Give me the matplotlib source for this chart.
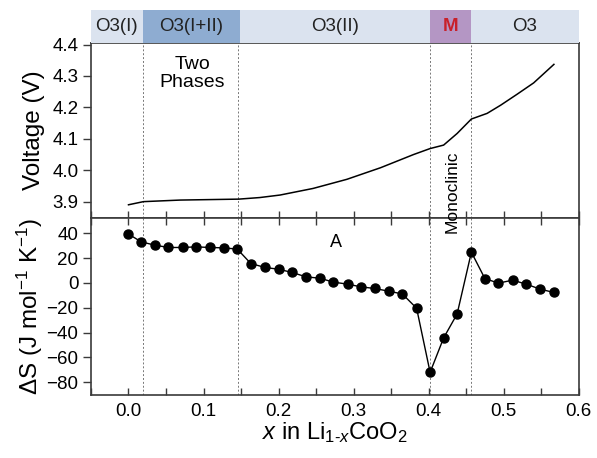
import matplotlib
matplotlib.use("Agg")
import matplotlib.pyplot as plt

plt.rcParams["font.family"] = ["Liberation Sans", "DejaVu Sans"]
plt.rcParams["mathtext.fontset"] = "custom"
plt.rcParams["mathtext.rm"] = "Liberation Sans"
plt.rcParams["mathtext.it"] = "Liberation Sans:italic"

# ---------------------------------------------------------------------------
# Data
# ---------------------------------------------------------------------------

volt_x = [0.000, 0.020, 0.069, 0.147, 0.175, 0.202, 0.246, 0.291, 0.336,
          0.380, 0.402, 0.420, 0.438, 0.457, 0.478, 0.496, 0.518, 0.540,
          0.567]
volt_v = [3.890, 3.900, 3.905, 3.908, 3.913, 3.921, 3.942, 3.971, 4.008,
          4.050, 4.069, 4.080, 4.117, 4.163, 4.181, 4.207, 4.242, 4.278,
          4.337]

ds_x = [0.000, 0.017, 0.035, 0.053, 0.072, 0.090, 0.108, 0.127, 0.145,
        0.163, 0.182, 0.200, 0.218, 0.237, 0.255, 0.273, 0.292, 0.310,
        0.328, 0.347, 0.365, 0.384, 0.402, 0.420, 0.438, 0.457, 0.475,
        0.493, 0.512, 0.530, 0.549, 0.567]
ds_y = [39.3, 33.0, 30.4, 28.5, 28.5, 29.0, 28.5, 28.2, 27.2,
        15.6, 12.4, 11.0, 8.4, 4.8, 3.8, 0.6, -1.0, -3.2,
        -4.5, -6.7, -8.9, -20.4, -72.0, -44.3, -25.0, 24.7, 3.5,
        -0.2, 2.2, -1.0, -5.1, -7.7]

# phase boundaries and header regions
boundaries = [0.019, 0.146, 0.402, 0.457]
phase_labels = ["O3(I)", "O3(I+II)", "O3(II)", "M", "O3"]
phase_edges = [-0.05, 0.019, 0.148, 0.402, 0.457, 0.6]
phase_colors = ["#dbe3ef", "#8eacd1", "#dbe3ef", "#b496c4", "#dbe3ef"]

# ---------------------------------------------------------------------------
# Figure
# ---------------------------------------------------------------------------

fig = plt.figure(figsize=(5.97, 4.58), dpi=100)
L, R = 0.1524, 0.9693
ax_top = fig.add_axes([L, 0.5234, R - L, 0.9061 - 0.5234])
ax_bot = fig.add_axes([L, 0.1382, R - L, 0.5234 - 0.1382], sharex=ax_top)
ax_hdr = fig.add_axes([L, 0.9061, R - L, 0.978 - 0.9061], sharex=ax_top)

spine_c = "#3a3a3a"

# header band
for lab, x0, x1, c in zip(phase_labels, phase_edges[:-1], phase_edges[1:], phase_colors):
    ax_hdr.axvspan(x0, x1, color=c, lw=0)
    if lab == "M":
        ax_hdr.text((x0 + x1) / 2, 0.5, lab, ha="center", va="center",
                    fontsize=13.5, color="#c8202a", fontweight="bold")
    else:
        ax_hdr.text((x0 + x1) / 2, 0.5, lab, ha="center", va="center",
                    fontsize=13.5, color="#222222")
ax_hdr.set_ylim(0, 1)
ax_hdr.axis("off")

# voltage panel
ax_top.plot(volt_x, volt_v, color="black", lw=1.1)
ax_top.set_ylim(3.847, 4.405)
ax_top.set_yticks([3.9, 4.0, 4.1, 4.2, 4.3, 4.4])
ax_top.set_yticklabels(["3.9", "4.0", "4.1", "4.2", "4.3", "4.4"])
ax_top.set_ylabel("Voltage (V)", fontsize=17.5)
ax_top.text(0.085, 4.307, "Two\nPhases", ha="center", va="center",
            fontsize=14, linespacing=1.05)
# spans both panels, so it goes on the figure above both axes
fig.text(0.431, 3.932, "Monoclinic", rotation=90, ha="center",
         va="center", fontsize=12.5, transform=ax_top.transData)

# entropy panel
ax_bot.plot(ds_x, ds_y, color="black", lw=1.0, marker="o", markersize=6.5)
ax_bot.set_ylim(-90, 52)
ax_bot.set_yticks([-80, -60, -40, -20, 0, 20, 40])
ax_bot.set_ylabel("ΔS (J mol$^{-1}$ K$^{-1}$)", fontsize=17.5)
ax_bot.text(0.276, 32.2, "A", ha="center", va="center", fontsize=13)

ax_bot.set_xlim(-0.05, 0.6)
ax_bot.set_xticks([0.0, 0.1, 0.2, 0.3, 0.4, 0.5, 0.6])
ax_bot.set_xticklabels(["0.0", "0.1", "0.2", "0.3", "0.4", "0.5", "0.6"])
ax_bot.set_xticks([-0.05, 0.05, 0.15, 0.25, 0.35, 0.45, 0.55], minor=True)
ax_bot.set_xlabel("$x$ in Li$_{1\u2010x}$CoO$_2$", fontsize=17, labelpad=0)

for ax in (ax_top, ax_bot):
    for b in boundaries:
        ax.axvline(b, color="#777777", lw=0.7, ls=(0, (2, 2)), zorder=0)
    for s in ax.spines.values():
        s.set_color(spine_c)
        s.set_linewidth(1.2)
    ax.tick_params(axis="y", direction="out", length=6, width=1.0,
                   color=spine_c, labelsize=13.5, pad=3)
    ax.tick_params(axis="x", which="both", direction="in", length=5,
                   width=1.0, color=spine_c, labelsize=13.5,
                   top=True, bottom=True)

ax_top.tick_params(axis="x", which="both", top=False, labelbottom=False)
ax_bot.tick_params(axis="x", pad=6)

ax_top.yaxis.set_label_coords(-0.095, 0.5)
ax_bot.yaxis.set_label_coords(-0.095, 0.5)

fig.savefig("out.png", dpi=100)
